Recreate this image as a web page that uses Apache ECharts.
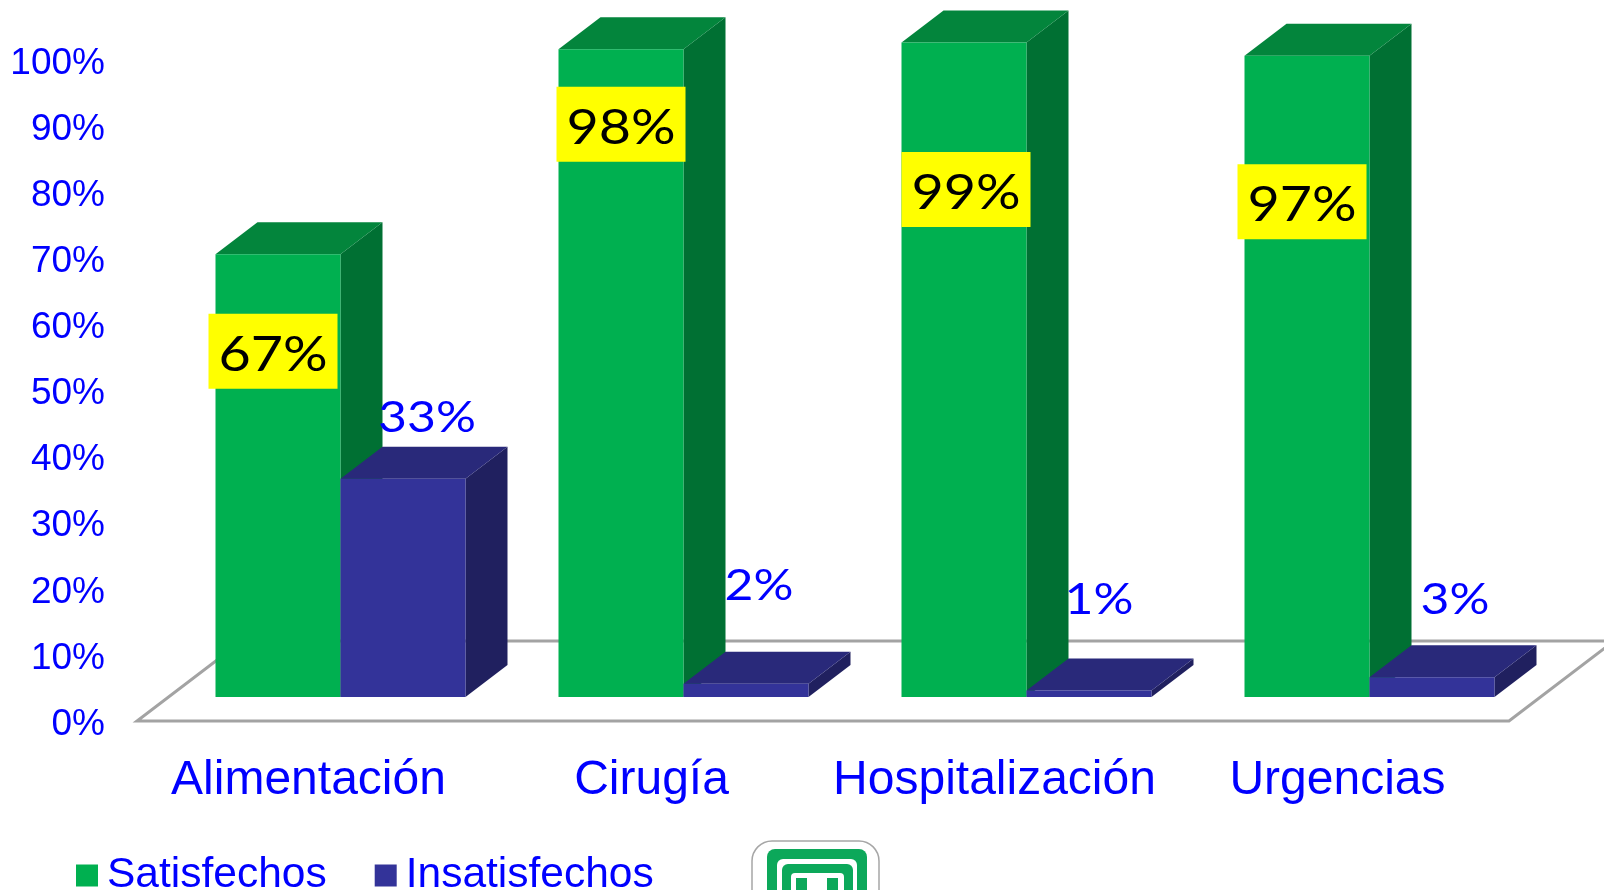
<!DOCTYPE html>
<html><head><meta charset="utf-8">
<style>html,body{margin:0;padding:0;background:#fff;overflow:hidden}#c{width:1604px;height:890px}</style>
<script src="https://cdn.jsdelivr.net/npm/echarts@6/dist/echarts.min.js"></script>
</head><body><div id="c"></div>
<script>
const categories = ['Alimentación', 'Cirugía', 'Hospitalización', 'Urgencias'];
const satisfechos = [67, 98, 99, 97];
const insatisfechos = [33, 2, 1, 3];
const yTickStep = 10;

// layout only: label centre relative to the top-centre of the bar's front face
const greenLabelOffset = [[-5, 97], [0, 75], [2, 147], [-5, 146]];
const blueLabelOffset = [[24, -61], [13, -98], [10, -91], [23, -78]];

const BAR_W = 125, DEPTH_X = 42, DEPTH_Y = 32, PLANE_X = 32, PLANE_Y = 24;
const FLOOR_X = 105, FLOOR_Y = 80;
const FONT = '"Liberation Sans", Arial, sans-serif';

function barSeries(name, values, dir, colors, offsets, labelStyle) {
  return {
    type: 'custom', name,
    itemStyle: { color: colors.front },
    data: values.map((v, i) => [i, v]),
    encode: { x: 0, y: 1 },
    z: dir < 0 ? 3 : 4,
    renderItem(params, api) {
      const i = api.value(0), v = api.value(1);
      const top = api.coord([i, v]), base = api.coord([i, 0]);
      const x0 = base[0] + PLANE_X + (dir < 0 ? -BAR_W : 0), x1 = x0 + BAR_W;
      const yb = base[1] - PLANE_Y, yt = top[1] - PLANE_Y;
      const cx = (x0 + x1) / 2;
      const [ox, oy] = offsets[i];
      const children = [
        { type: 'polygon', shape: { points: [[x1, yt], [x1 + DEPTH_X, yt - DEPTH_Y], [x1 + DEPTH_X, yb - DEPTH_Y], [x1, yb]] }, style: { fill: colors.side } },
        { type: 'polygon', shape: { points: [[x0, yt], [x0 + DEPTH_X, yt - DEPTH_Y], [x1 + DEPTH_X, yt - DEPTH_Y], [x1, yt]] }, style: { fill: colors.top } },
        { type: 'rect', shape: { x: x0, y: yt, width: BAR_W, height: yb - yt }, style: { fill: colors.front } }
      ];
      if (labelStyle.box) {
        children.push({ type: 'rect', shape: { x: cx + ox - 64.5, y: yt + oy - 37.5, width: 129, height: 75 }, style: { fill: labelStyle.box } });
      }
      children.push({ type: 'text', x: cx + ox, y: yt + oy + labelStyle.dy, scaleX: labelStyle.stretch,
        style: { text: v + '%', x: 0, y: 0, textAlign: 'center', textVerticalAlign: 'middle', fill: labelStyle.color, font: labelStyle.font } });
      return { type: 'group', children };
    }
  };
}

const floorSeries = {
  type: 'custom', name: 'floor', silent: true, z: 1, data: [[0, 0]], encode: { x: 0, y: 1 },
  renderItem(params, api) {
    const g = params.coordSys;
    const yb = g.y + g.height, xl = g.x, xr = g.x + g.width;
    return { type: 'polygon', shape: { points: [[xl, yb], [xr, yb], [xr + FLOOR_X, yb - FLOOR_Y], [xl + FLOOR_X, yb - FLOOR_Y]] },
      style: { fill: '#fff', stroke: '#a3a3a3', lineWidth: 3 } };
  }
};

const chart = echarts.init(document.getElementById('c'), null, { renderer: 'canvas' });
const labelFont = '400 48px Lato, sans-serif';
const blueFont = '400 43px Lato, sans-serif';
chart.setOption({
  animation: false,
  backgroundColor: '#fff',
  grid: { left: 137, top: 60, width: 1372, height: 661, containLabel: false },
  xAxis: { type: 'category', data: categories, axisLine: { show: false }, axisTick: { show: false },
    axisLabel: { color: '#0000ff', fontFamily: FONT, fontSize: 48, margin: 36, interval: 0 } },
  yAxis: { type: 'value', min: 0, max: 100, interval: yTickStep, axisLine: { show: false }, axisTick: { show: false }, splitLine: { show: false },
    axisLabel: { color: '#0000ff', fontFamily: FONT, fontSize: 37, margin: 32, verticalAlign: 'top', padding: [-15, 0, 0, 0], formatter: '{value}%' } },
  legend: { left: 76, top: 854, padding: 0, itemWidth: 22, itemHeight: 22, itemGap: 48, icon: 'rect',
    data: ['Satisfechos', 'Insatisfechos'],
    textStyle: { color: '#0000ff', fontFamily: FONT, fontSize: 42.5, padding: [0, 0, 0, 4] } },
  graphic: [
    { type: 'rect', z: 10, shape: { x: 752, y: 841, width: 127, height: 90, r: 20 }, style: { fill: '#fff', stroke: '#a6a6a6', lineWidth: 1.5 } },
    { type: 'rect', z: 11, shape: { x: 767, y: 849, width: 100, height: 80, r: 8 }, style: { fill: '#0ca85a' } },
    { type: 'rect', z: 12, shape: { x: 777, y: 859, width: 80, height: 70, r: 6 }, style: { fill: '#fff' } },
    { type: 'rect', z: 13, shape: { x: 782, y: 864, width: 71, height: 60, r: 6 }, style: { fill: '#0ca85a' } },
    { type: 'rect', z: 14, shape: { x: 791, y: 873, width: 53, height: 50, r: 4 }, style: { fill: '#fff' } },
    { type: 'rect', z: 15, shape: { x: 796, y: 878, width: 11, height: 12 }, style: { fill: '#0ca85a' } },
    { type: 'rect', z: 15, shape: { x: 827, y: 878, width: 11, height: 12 }, style: { fill: '#0ca85a' } }
  ],
  series: [
    floorSeries,
    barSeries('Satisfechos', satisfechos, -1, { front: '#00b050', side: '#007033', top: '#03853c' }, greenLabelOffset, { box: '#ffff00', color: '#000', font: labelFont, stretch: 1.16, dy: 4 }),
    barSeries('Insatisfechos', insatisfechos, 1, { front: '#333399', side: '#20205f', top: '#29297a' }, blueLabelOffset, { color: '#0000ff', font: blueFont, stretch: 1.16, dy: 0.5 })
  ]
});
</script></body></html>
